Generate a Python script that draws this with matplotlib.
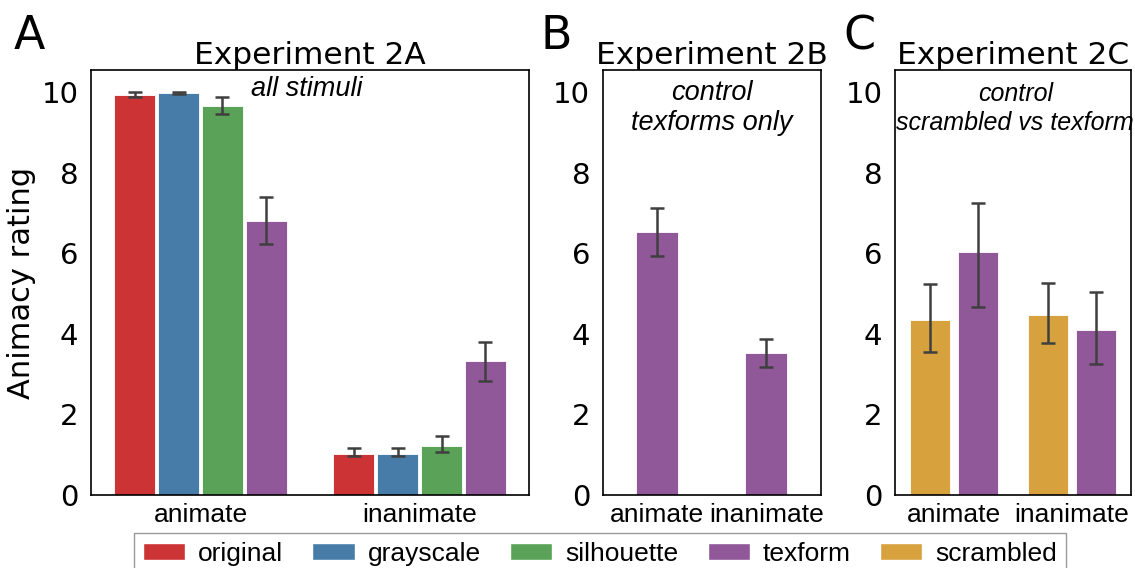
import matplotlib
matplotlib.use("Agg")
import matplotlib.pyplot as plt
from matplotlib.patches import Patch
import numpy as np

# ---------------------------------------------------------------------------
# Data
# ---------------------------------------------------------------------------
categories = ["animate", "inanimate"]

conds_2a = ["original", "grayscale", "silhouette", "texform"]
mean_2a = {
    "original": [9.94, 1.03],
    "grayscale": [9.99, 1.03],
    "silhouette": [9.66, 1.22],
    "texform": [6.80, 3.32],
}
lo_2a = {
    "original": [9.89, 0.98],
    "grayscale": [9.97, 0.98],
    "silhouette": [9.45, 1.06],
    "texform": [6.23, 2.84],
}
hi_2a = {
    "original": [10.00, 1.17],
    "grayscale": [10.01, 1.17],
    "silhouette": [9.88, 1.47],
    "texform": [7.40, 3.80],
}

mean_2b = [6.54, 3.52]
lo_2b = [5.93, 3.18]
hi_2b = [7.13, 3.88]

conds_2c = ["scrambled", "texform"]
mean_2c = {"scrambled": [4.35, 4.48], "texform": [6.04, 4.10]}
lo_2c = {"scrambled": [3.54, 3.77], "texform": [4.66, 3.26]}
hi_2c = {"scrambled": [5.25, 5.27], "texform": [7.26, 5.04]}

legend_labels = ["original", "grayscale", "silhouette", "texform", "scrambled"]

# ---------------------------------------------------------------------------
# Style
# ---------------------------------------------------------------------------
colors = {
    "original": "#CB3335",
    "grayscale": "#477CA8",
    "silhouette": "#59A257",
    "texform": "#905899",
    "scrambled": "#D7A13D",
}
ERR = dict(ecolor="#3f3f3f", elinewidth=1.8, capsize=5, capthick=1.8)
SANS = "Liberation Sans"
YMAX = 10.55

fig = plt.figure(figsize=(11.35, 5.68), dpi=100)
ax_a = fig.add_axes([0.0802, 0.1285, 0.386, 0.748])
ax_b = fig.add_axes([0.531, 0.1285, 0.192, 0.748])
ax_c = fig.add_axes([0.7885, 0.1285, 0.208, 0.748])

x = np.arange(len(categories))


def _bars(ax, centers, means, lo, hi, color, width):
    means = np.asarray(means)
    yerr = np.vstack([means - np.asarray(lo), np.asarray(hi) - means])
    ax.bar(centers, means, width=width, color=color, edgecolor="white",
           linewidth=0.6)
    ax.errorbar(centers, means, yerr=yerr, fmt="none", zorder=3, **ERR)


def _style(ax, title):
    ax.set_xlim(-0.5, 1.5)
    ax.set_ylim(0, YMAX)
    ax.set_yticks([0, 2, 4, 6, 8, 10])
    ax.set_xticks(x)
    ax.set_xticklabels(categories, family=SANS, fontsize=19)
    ax.tick_params(axis="both", length=0)
    ax.tick_params(axis="y", labelsize=21, pad=9)
    ax.tick_params(axis="x", pad=6)
    for sp in ax.spines.values():
        sp.set_color("black")
        sp.set_linewidth(1.2)
    ax.set_title(title, fontsize=22.5, pad=3)


# Panel A
for i, c in enumerate(conds_2a):
    off = (i - 1.5) * 0.2
    _bars(ax_a, x + off, mean_2a[c], lo_2a[c], hi_2a[c], colors[c], 0.187)
_style(ax_a, "Experiment 2A")
ax_a.set_ylabel("Animacy rating", fontsize=22, labelpad=4)
ax_a.text(0.493, 0.955, "all stimuli", transform=ax_a.transAxes,
          ha="center", va="center", style="italic", family=SANS, fontsize=19.5)

# Panel B
_bars(ax_b, x, mean_2b, lo_2b, hi_2b, colors["texform"], 0.39)
_style(ax_b, "Experiment 2B")
ax_b.text(0.5, 0.91, "control\ntexforms only", transform=ax_b.transAxes,
          ha="center", va="center", style="italic", family=SANS, fontsize=19.5,
          linespacing=1.2)

# Panel C
for i, c in enumerate(conds_2c):
    off = (i - 0.5) * 0.4
    _bars(ax_c, x + off, mean_2c[c], lo_2c[c], hi_2c[c], colors[c], 0.34)
_style(ax_c, "Experiment 2C")
ax_c.text(0.51, 0.91, "control\nscrambled vs texform", transform=ax_c.transAxes,
          ha="center", va="center", style="italic", family=SANS, fontsize=18,
          linespacing=1.25)

# Panel letters
for lx, letter in [(0.012, "A"), (0.476, "B"), (0.743, "C")]:
    fig.text(lx, 0.975, letter, fontsize=33, va="top", ha="left")

# Shared legend
handles = [Patch(facecolor=colors[k], edgecolor="white", label=k)
           for k in legend_labels]
leg = fig.legend(handles=handles, loc="upper center", ncol=5,
                 bbox_to_anchor=(0.5286, 0.062), frameon=True, fancybox=False,
                 prop={"family": SANS, "size": 19}, handlelength=1.6,
                 handleheight=0.6, handletextpad=0.5, columnspacing=1.1,
                 borderpad=0.35, borderaxespad=0)
leg.get_frame().set_edgecolor("#808080")
leg.get_frame().set_linewidth(1.0)

fig.savefig("out.png", dpi=100)
